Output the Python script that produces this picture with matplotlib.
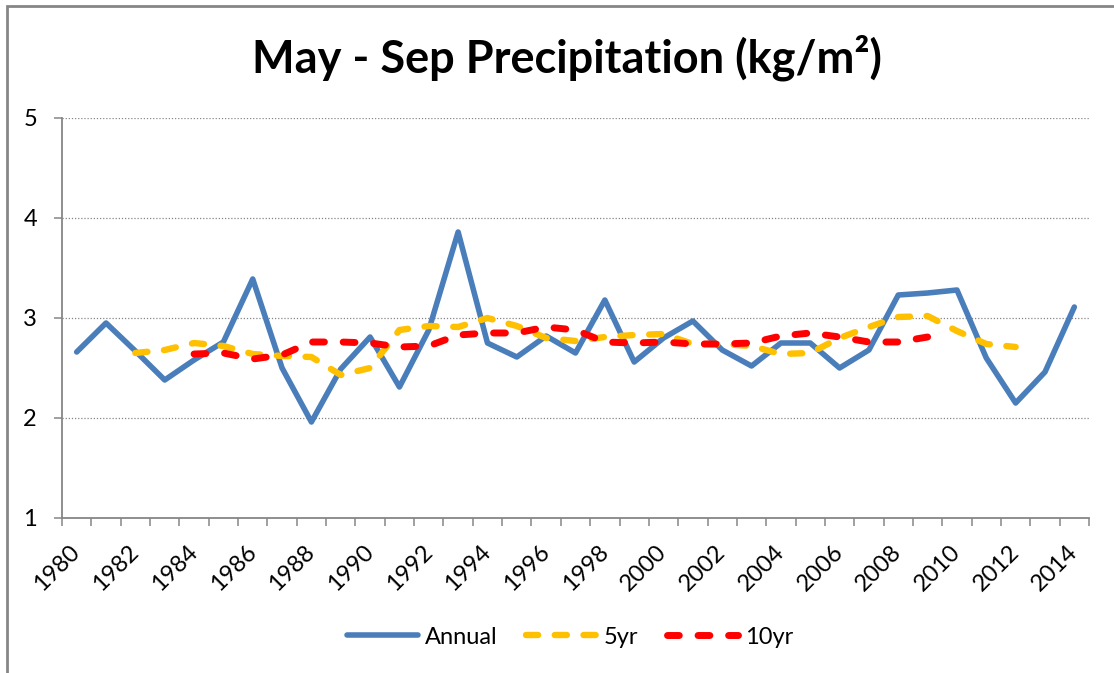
import matplotlib
matplotlib.use("Agg")
import matplotlib.pyplot as plt
from matplotlib.patches import Rectangle

# years on the category axis
years = list(range(1980, 2015))

# annual May-Sep precipitation (kg/m2)
annual = [2.66, 2.95, 2.67, 2.38, 2.58, 2.76, 3.39, 2.50, 1.96, 2.49,
          2.81, 2.31, 2.88, 3.86, 2.75, 2.61, 2.82, 2.65, 3.18, 2.56,
          2.80, 2.97, 2.68, 2.52, 2.75, 2.75, 2.50, 2.68, 3.23, 3.25,
          3.28, 2.60, 2.15, 2.46, 3.11]

# 5yr running mean, 1982-2012
yrs_5 = list(range(1982, 2013))
avg_5 = [2.65, 2.68, 2.75, 2.72, 2.64, 2.62, 2.61, 2.43, 2.50, 2.88,
         2.92, 2.91, 3.00, 2.92, 2.80, 2.77, 2.81, 2.83, 2.84, 2.74,
         2.74, 2.72, 2.64, 2.65, 2.80, 2.91, 3.01, 3.02, 2.87, 2.74,
         2.71]

# 10yr running mean, 1984-2009
yrs_10 = list(range(1984, 2010))
avg_10 = [2.64, 2.65, 2.59, 2.63, 2.76, 2.76, 2.75, 2.71, 2.72, 2.83,
          2.85, 2.85, 2.91, 2.88, 2.76, 2.75, 2.76, 2.74, 2.74, 2.75,
          2.82, 2.85, 2.81, 2.76, 2.76, 2.81]

tick_years = years[::2]
y_ticks = [1, 2, 3, 4, 5]

plt.rcParams['font.family'] = ['Lato', 'DejaVu Sans']
axis_grey = '#868686'

fig = plt.figure(figsize=(11.14, 6.73), dpi=100)
ax = fig.add_axes([62 / 1114, 1 - 518 / 673, (1089 - 62) / 1114, 400 / 673])

ax.plot(years, annual, color='#4A7EBB', lw=4.0, solid_capstyle='round',
        solid_joinstyle='round', label='Annual', zorder=3)
ax.plot(yrs_5, avg_5, color='#FFC000', lw=4.6, linestyle=(0, (1.9, 2.6)),
        dash_capstyle='round', dash_joinstyle='round', label='5yr', zorder=4)
ax.plot(yrs_10, avg_10, color='#FF0000', lw=5.0, linestyle=(0, (1.7, 2.7)),
        dash_capstyle='round', dash_joinstyle='round', label='10yr', zorder=5)

ax.set_xlim(years[0] - 0.5, years[-1] + 0.5)
ax.set_ylim(1, 5)
ax.set_yticks(y_ticks)
ax.set_xticks(tick_years, [str(y) for y in tick_years])
ax.set_xticks([y - 0.5 for y in years] + [years[-1] + 0.5], minor=True)

ax.tick_params(axis='x', which='major', length=0, pad=22, labelsize=17)
ax.tick_params(axis='x', which='minor', length=6, width=1.1, color=axis_grey)
ax.tick_params(axis='y', length=6, width=1.1, color=axis_grey, pad=12, labelsize=17)
plt.setp(ax.get_xticklabels(), rotation=45, ha='right', va='center',
         rotation_mode='anchor')

for s in ['top', 'right']:
    ax.spines[s].set_visible(False)
for s in ['left', 'bottom']:
    ax.spines[s].set_color(axis_grey)
    ax.spines[s].set_linewidth(1.3)

ax.yaxis.grid(True, color=axis_grey, linestyle=(0, (1, 1.5)), linewidth=0.9)
ax.set_axisbelow(True)

fig.text(567 / 1114, 1 - 58 / 673, 'May - Sep Precipitation (kg/m²)',
         ha='center', va='center', fontsize=32.5, fontweight='bold')

fig.legend(loc='center', bbox_to_anchor=(570 / 1114, 1 - 637 / 673), ncol=3,
           frameon=False, fontsize=17, handlelength=3.0, handletextpad=0.3,
           columnspacing=1.2)

# chart border (right and bottom edges fall outside the picture)
fig.patches.append(Rectangle((7 / 1114, -0.05), 1.1, 1 - 6.5 / 673 + 0.05,
                             transform=fig.transFigure, fill=False,
                             edgecolor=axis_grey, linewidth=2.0))

fig.savefig('out.png', dpi=100)
